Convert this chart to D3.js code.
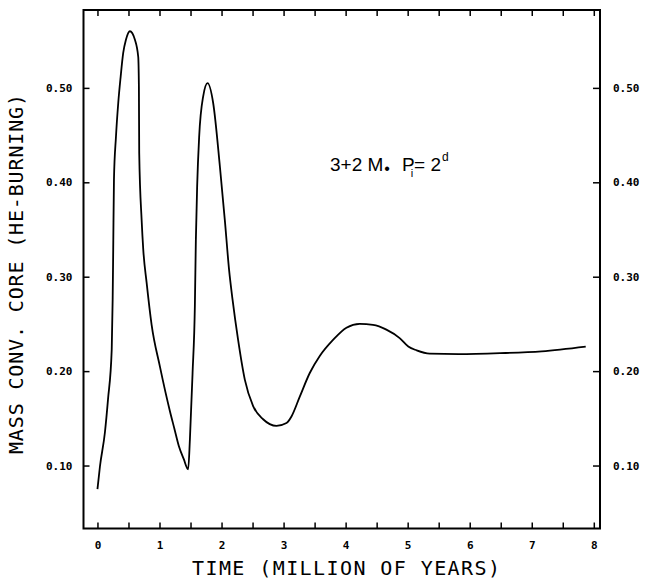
<!DOCTYPE html>
<html><head><meta http-equiv="Content-Type" content="text/html; charset=utf-8">
    <script src="https://d3js.org/d3.v7.min.js"></script>
    <style>
        body { margin: 0; background: #fff; }
        .tick text { font-family: "DejaVu Sans Mono", monospace; font-weight: bold; font-size: 11px; fill: #000; }
        .tick line { stroke: #000; stroke-width: 1.5; }
        .domain { display: none; }
    </style>
    </head>

    <body>

        <div class="chart"></div>

        <script type="text/javascript">

            // time in million years, mass of the convective core
            var timeMyr = [0.00, 0.04, 0.12, 0.17, 0.23, 0.245, 0.254, 0.266, 0.298, 0.335, 0.374, 0.415, 0.459, 0.523,
                           0.604, 0.657, 0.668, 0.673, 0.712, 0.738, 0.792, 0.873, 1.006, 1.17, 1.24, 1.31, 1.39, 1.462,
                           1.49, 1.533, 1.57, 1.586, 1.607, 1.639, 1.704, 1.775, 1.865, 1.973, 2.053, 2.122, 2.177,
                           2.267, 2.375, 2.509, 2.67, 2.886, 3.047, 3.127, 3.261, 3.422, 3.583, 3.797, 4.013, 4.227,
                           4.441, 4.657, 4.871, 5.01, 5.145, 5.354, 5.82, 6.49, 7.16, 7.87];
            var coreMass = [0.075, 0.099, 0.135, 0.170, 0.223, 0.276, 0.329, 0.403, 0.448, 0.484, 0.512, 0.537, 0.551, 0.560,
                            0.551, 0.533, 0.501, 0.431, 0.360, 0.329, 0.294, 0.249, 0.205, 0.157, 0.139, 0.121, 0.107, 0.096,
                            0.1275, 0.198, 0.269, 0.339, 0.396, 0.448, 0.491, 0.505, 0.484, 0.417, 0.360, 0.307, 0.276,
                            0.233, 0.191, 0.163, 0.149, 0.142, 0.145, 0.152, 0.173, 0.198, 0.216, 0.233, 0.246, 0.250,
                            0.249, 0.244, 0.235, 0.226, 0.222, 0.2185, 0.218, 0.219, 0.221, 0.226];

            var xTicks = [0, 1, 2, 3, 4, 5, 6, 7, 8];
            var xMinorTicks = [0, 0.5, 1, 1.5, 2, 2.5, 3, 3.5, 4, 4.5, 5, 5.5, 6, 6.5, 7, 7.5, 8];
            var yTicks = [0.10, 0.20, 0.30, 0.40, 0.50];

            var xTitle = "TIME (MILLION OF YEARS)";
            var yTitle = "MASS CONV. CORE (HE-BURNING)";

            var width = 651;
            var height = 580;

            var svg = d3.select("div.chart")
            .append("svg")
            .attr("width", width)
            .attr("height", height)

            var frameL = 83.5, frameR = 600, frameT = 10, frameB = 528.5;

            var x = d3.scaleLinear().domain([-0.225, 8.1]).range([frameL, frameR]);
            var y = d3.scaleLinear().domain([0.0333, 0.5825]).range([frameB, frameT]);

            //------------------ AXES -----------------------------------

            svg.append("g")
                .attr("transform", "translate(0," + frameB + ")")
                .call(d3.axisBottom(x).tickValues(xMinorTicks).tickSize(-6).tickPadding(13)
                    .tickFormat(function (d) { return xTicks.indexOf(d) >= 0 ? d : ""; }));

            svg.append("g")
                .attr("transform", "translate(0," + frameT + ")")
                .call(d3.axisTop(x).tickValues(xMinorTicks).tickSize(-6).tickFormat(""));

            svg.append("g")
                .attr("transform", "translate(" + frameL + ",0)")
                .call(d3.axisLeft(y).tickValues(yTicks).tickSize(-6).tickPadding(11).tickFormat(d3.format(".2f")));

            svg.append("g")
                .attr("transform", "translate(" + frameR + ",0)")
                .call(d3.axisRight(y).tickValues(yTicks).tickSize(-7).tickPadding(13).tickFormat(d3.format(".2f")));

            svg.append("rect")
                .attr("x", frameL)
                .attr("y", frameT)
                .attr("width", frameR - frameL)
                .attr("height", frameB - frameT)
                .style("fill", "none")
                .style("stroke", "#000")
                .style("stroke-width", 2)

            // ----------------- CURVE ------------------------------

            var line = d3.line()
            .x(function (d) { return x(d[0]); })
            .y(function (d) { return y(d[1]); })
            .curve(d3.curveMonotoneX)

            svg.append("path")
                .datum(d3.zip(timeMyr, coreMass))
                .attr("d", line)
                .style("fill", "none")
                .style("stroke", "#000")
                .style("stroke-width", 1.8)

            // ----------------- TITLES ------------------------------

            svg.append("text")
                .attr("x", 192)
                .attr("y", 575)
                .attr("textLength", 308)
                .attr("lengthAdjust", "spacing")
                .style("font-family", "DejaVu Sans Mono, monospace")
                .style("font-size", "20px")
                .text(xTitle)

            svg.append("text")
                .attr("transform", "translate(23,454)rotate(-90)")
                .attr("textLength", 360)
                .attr("lengthAdjust", "spacing")
                .style("font-family", "DejaVu Sans Mono, monospace")
                .style("font-size", "20px")
                .text(yTitle)

            var note = svg.append("text")
                .attr("x", 330)
                .attr("y", 171)
                .style("font-family", "Liberation Sans, Arial, sans-serif")
                .style("font-size", "19px")

            note.append("tspan").text("3+2 M");
            note.append("tspan").attr("dy", 3).attr("dx", 1).style("font-size", "16px").text("\u2022");
            note.append("tspan").attr("dy", -3).attr("dx", 12).text("P");
            note.append("tspan").attr("dy", 6).attr("dx", -4).style("font-size", "11px").text("i");
            note.append("tspan").attr("dy", -6).attr("dx", 1).text("= 2");
            note.append("tspan").attr("dy", -10).attr("dx", 1).style("font-size", "12px").text("d");

        </script>

    </body></html>
